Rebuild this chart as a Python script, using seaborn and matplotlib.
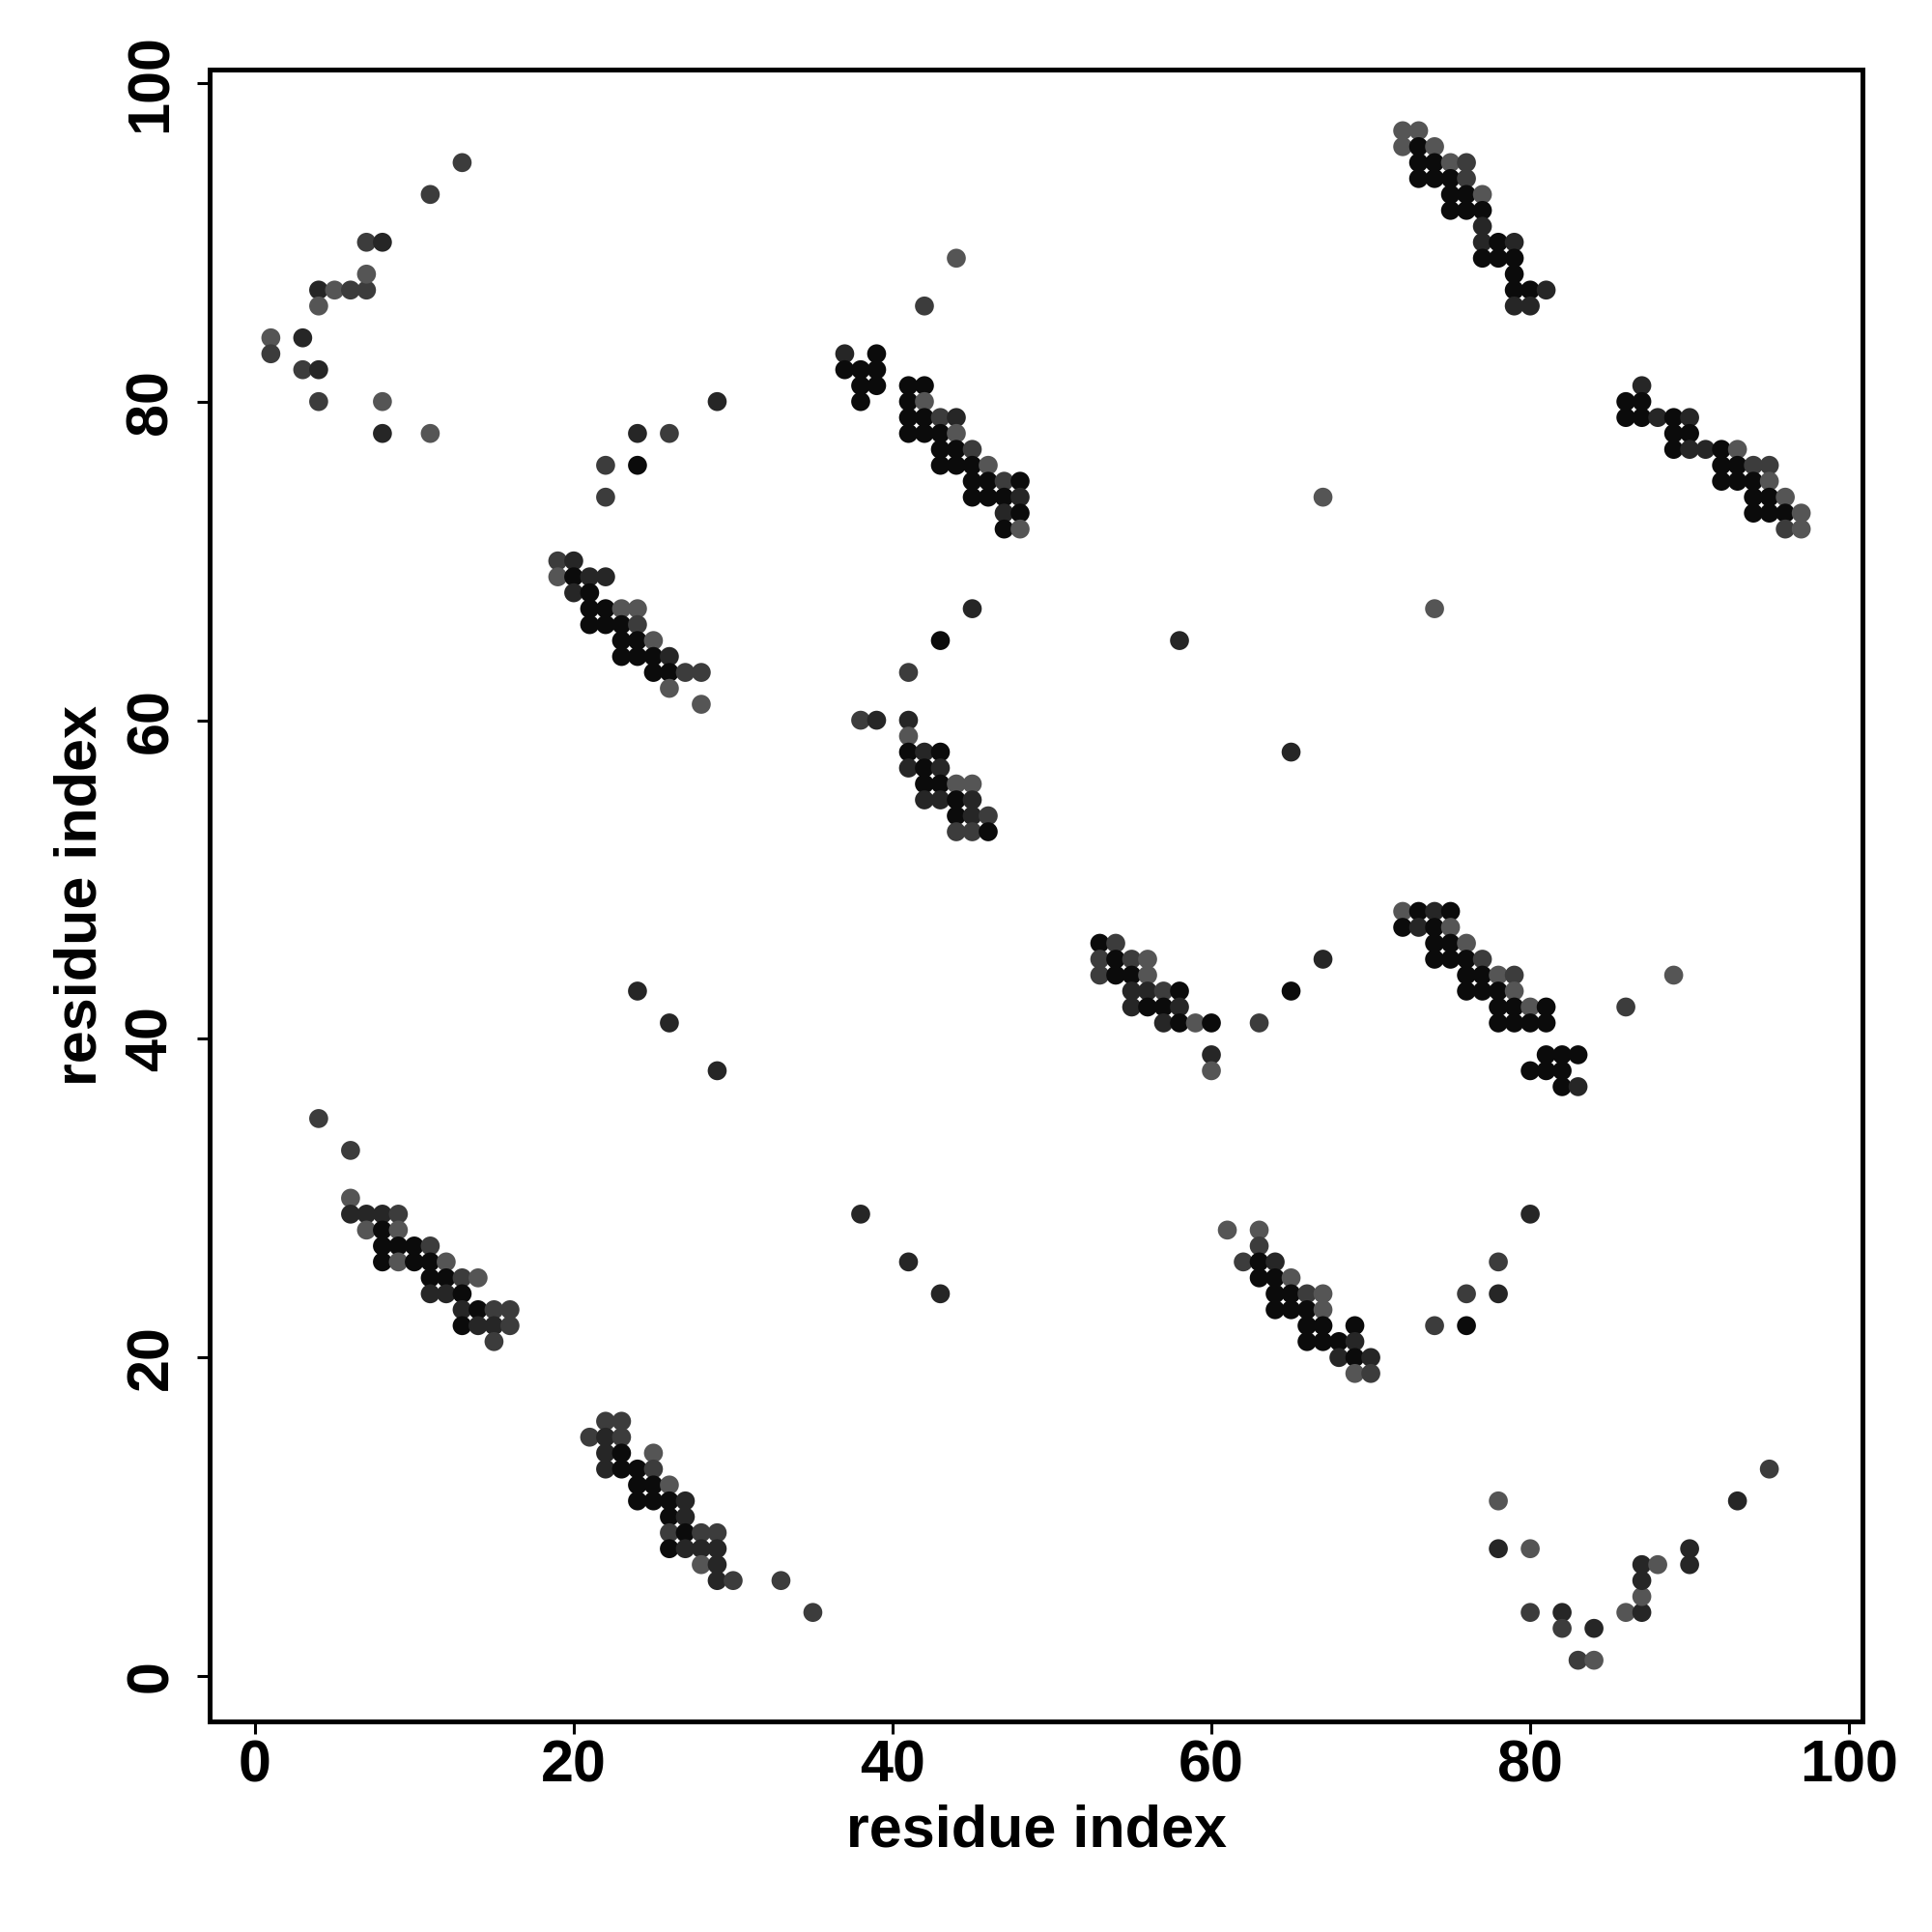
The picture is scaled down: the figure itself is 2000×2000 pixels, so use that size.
import matplotlib
matplotlib.use("Agg")
import matplotlib.pyplot as plt
import seaborn as sns
import pandas as pd

# ---- data: contact pairs (residue i, residue j) and shade level (0 = darkest) ----
res_i = [
    # top-left scatter
    1, 1, 3, 3, 4, 4, 4, 4, 5, 6, 7, 7, 7, 8, 11, 13, 8, 8, 11,
    22, 24, 22, 24, 26, 29,
    # band 19-28 / 61-70
    19, 20, 19, 20, 21, 22, 20, 21, 21, 22, 23, 24, 21, 22, 23, 24,
    23, 24, 25, 23, 24, 25, 26, 25, 26, 27, 28, 26, 28,
    # band 37-48 / 72-83
    37, 39, 37, 38, 39, 38, 39, 38, 42, 44,
    41, 42, 41, 42, 41, 42, 43, 44, 41, 42, 43, 44, 43, 44, 45,
    43, 44, 45, 46, 45, 46, 47, 48, 45, 46, 47, 48, 47, 48, 47, 48,
    # middle singles
    45, 43, 58, 41, 38, 39, 65, 67, 74,
    # band 41-46 / 53-60
    41, 41, 41, 42, 43, 41, 42, 43, 42, 43, 44, 45, 42, 43, 44, 45,
    44, 45, 46, 44, 45, 46,
    # band 72-81 / 86-97
    72, 73, 72, 73, 74, 73, 74, 75, 76, 73, 74, 75, 76, 75, 76, 77,
    75, 76, 77, 77, 77, 78, 79, 77, 78, 79, 79, 79, 80, 81, 79, 80,
    # band 86-97 / 72-81
    87, 86, 87, 86, 87, 88, 89, 90, 89, 90, 89, 90, 91, 92, 93,
    92, 93, 94, 95, 92, 93, 94, 95, 94, 95, 96, 94, 95, 96, 97, 96, 97,
    # band 53-60 / 38-46
    53, 54, 53, 54, 55, 56, 53, 54, 55, 56, 55, 56, 57, 58, 55, 56, 57, 58,
    57, 58, 59, 60, 60, 60, 63, 65, 67,
    # band 72-83 / 37-48
    72, 73, 74, 75, 72, 73, 74, 75, 74, 75, 76, 74, 75, 76, 77,
    76, 77, 78, 79, 76, 77, 78, 79, 78, 79, 80, 81, 78, 79, 80, 81,
    81, 82, 83, 80, 81, 82, 82, 83, 86, 89,
    # lower-middle singles
    24, 26, 29,
    # band 4-16 / 21-35
    4, 6, 6, 6, 7, 8, 9, 7, 8, 9, 8, 9, 10, 11, 8, 9, 10, 11, 12,
    11, 12, 13, 14, 11, 12, 13, 13, 14, 15, 16, 13, 14, 15, 16, 15,
    38, 41, 43,
    # band 61-70 / 19-28
    61, 63, 63, 62, 63, 64, 63, 64, 65, 64, 65, 66, 67, 64, 65, 66, 67,
    66, 67, 69, 66, 67, 68, 69, 68, 69, 70, 69, 70,
    74, 76, 76, 78, 78, 80,
    # band 21-30 / 4-16
    22, 23, 21, 22, 23, 22, 23, 25, 22, 23, 24, 25, 24, 25, 26,
    24, 25, 26, 27, 26, 27, 26, 27, 28, 29, 26, 27, 28, 29, 28, 29,
    29, 30, 33, 35,
    # bottom-right scatter
    78, 78, 80, 80, 82, 82, 84, 83, 84, 86, 87, 87, 87, 87, 88, 90, 90, 93, 95,
]
res_j = [
    84, 83, 84, 82, 82, 80, 87, 86, 87, 87, 87, 88, 90, 90, 93, 95, 80, 78, 78,
    76, 76, 74, 78, 78, 80,
    70, 70, 69, 69, 69, 69, 68, 68, 67, 67, 67, 67, 66, 66, 66, 66,
    65, 65, 65, 64, 64, 64, 64, 63, 63, 63, 63, 62, 61,
    83, 83, 82, 82, 82, 81, 81, 80, 86, 89,
    81, 81, 80, 80, 79, 79, 79, 79, 78, 78, 78, 78, 77, 77, 77,
    76, 76, 76, 76, 75, 75, 75, 75, 74, 74, 74, 74, 73, 73, 72, 72,
    67, 65, 65, 63, 60, 60, 58, 74, 67,
    60, 59, 58, 58, 58, 57, 57, 57, 56, 56, 56, 56, 55, 55, 55, 55,
    54, 54, 54, 53, 53, 53,
    97, 97, 96, 96, 96, 95, 95, 95, 95, 94, 94, 94, 94, 93, 93, 93,
    92, 92, 92, 91, 90, 90, 90, 89, 89, 89, 88, 87, 87, 87, 86, 86,
    81, 80, 80, 79, 79, 79, 79, 79, 78, 78, 77, 77, 77, 77, 77,
    76, 76, 76, 76, 75, 75, 75, 75, 74, 74, 74, 73, 73, 73, 73, 72, 72,
    46, 46, 45, 45, 45, 45, 44, 44, 44, 44, 43, 43, 43, 43, 42, 42, 42, 42,
    41, 41, 41, 41, 39, 38, 41, 43, 45,
    48, 48, 48, 48, 47, 47, 47, 47, 46, 46, 46, 45, 45, 45, 45,
    44, 44, 44, 44, 43, 43, 43, 43, 42, 42, 42, 42, 41, 41, 41, 41,
    39, 39, 39, 38, 38, 38, 37, 37, 42, 44,
    43, 41, 38,
    35, 33, 30, 29, 29, 29, 29, 28, 28, 28, 27, 27, 27, 27, 26, 26, 26, 26, 26,
    25, 25, 25, 25, 24, 24, 24, 23, 23, 23, 23, 22, 22, 22, 22, 21,
    29, 26, 24,
    28, 28, 27, 26, 26, 26, 25, 25, 25, 24, 24, 24, 24, 23, 23, 23, 23,
    22, 22, 22, 21, 21, 21, 21, 20, 20, 20, 19, 19,
    22, 24, 22, 26, 24, 29,
    16, 16, 15, 15, 15, 14, 14, 14, 13, 13, 13, 13, 12, 12, 12,
    11, 11, 11, 11, 10, 10, 9, 9, 9, 9, 8, 8, 8, 8, 7, 7,
    6, 6, 6, 4,
    11, 8, 8, 4, 4, 3, 3, 1, 1, 4, 4, 5, 6, 7, 7, 8, 7, 11, 13,
]
shade = [
    3, 2, 1, 2, 1, 2, 1, 3, 3, 2, 2, 3, 2, 1, 2, 2, 3, 1, 3,
    2, 0, 2, 1, 2, 1,
    2, 1, 3, 0, 1, 1, 1, 0, 0, 0, 3, 3, 0, 0, 0, 2,
    0, 0, 3, 0, 0, 0, 1, 0, 0, 2, 2, 3, 3,
    1, 0, 0, 0, 0, 0, 0, 0, 2, 3,
    0, 0, 0, 3, 0, 0, 2, 1, 0, 0, 0, 3, 0, 0, 2,
    0, 0, 0, 3, 0, 0, 2, 0, 0, 0, 0, 1, 1, 0, 0, 3,
    1, 0, 1, 2, 2, 1, 1, 3, 3,
    1, 3, 0, 1, 0, 1, 0, 1, 0, 0, 3, 3, 1, 1, 0, 1,
    0, 1, 2, 2, 2, 0,
    3, 3, 3, 0, 3, 0, 0, 3, 2, 0, 0, 0, 2, 0, 0, 3,
    0, 0, 0, 1, 1, 0, 1, 0, 0, 0, 0, 0, 0, 1, 1, 1,
    1, 0, 0, 0, 0, 1, 0, 1, 0, 0, 0, 1, 1, 0, 3,
    0, 0, 2, 2, 0, 0, 0, 3, 0, 0, 3, 0, 0, 0, 3, 2, 3,
    0, 2, 2, 0, 2, 3, 2, 0, 0, 3, 1, 1, 2, 0, 1, 0, 0, 1,
    1, 0, 3, 0, 1, 3, 2, 0, 1,
    3, 0, 1, 0, 0, 1, 0, 3, 0, 0, 3, 0, 0, 0, 2,
    0, 0, 3, 2, 0, 0, 0, 3, 0, 0, 3, 0, 0, 0, 0, 0,
    0, 0, 0, 0, 0, 0, 0, 1, 2, 3,
    1, 1, 1,
    2, 2, 3, 1, 1, 1, 2, 3, 0, 3, 0, 0, 0, 2, 0, 3, 0, 0, 3,
    0, 0, 2, 3, 1, 1, 0, 1, 0, 2, 2, 0, 1, 1, 2, 2,
    1, 1, 1,
    3, 3, 2, 2, 0, 1, 0, 0, 3, 0, 0, 2, 3, 0, 0, 0, 3,
    0, 0, 0, 0, 0, 0, 1, 1, 0, 1, 3, 2,
    2, 2, 0, 2, 1, 1,
    2, 2, 2, 1, 2, 1, 0, 3, 1, 0, 0, 2, 0, 0, 3,
    0, 0, 0, 1, 0, 1, 2, 0, 2, 2, 0, 1, 1, 1, 3, 1,
    1, 2, 2, 2,
    3, 1, 3, 2, 1, 2, 1, 2, 3, 3, 1, 3, 1, 1, 3, 1, 1, 1, 2,
]
shade_colors = {0: "#0b0b0b", 1: "#262626", 2: "#3c3c3c", 3: "#555555"}
tick_values = [0, 20, 40, 60, 80, 100]
axis_label = "residue index"

df = pd.DataFrame({"i": res_i, "j": res_j, "shade": shade})

sns.set_theme(style="white")
plt.rcParams["font.family"] = ["Liberation Sans", "DejaVu Sans"]

fig = plt.figure(figsize=(10, 10), dpi=200)
fig.patch.set_facecolor("white")
ax = fig.add_axes([0.1085, 0.109, 0.8555, 0.855])

sns.scatterplot(data=df, x="i", y="j", hue="shade", palette=shade_colors,
                s=50, linewidth=0, legend=False, ax=ax)

# R-like 4% expansion of the data range
def expand(vals):
    lo, hi = min(vals), max(vals)
    d = (hi - lo) * 0.04
    return lo - d, hi + d

ax.set_xlim(*expand(res_i))
ax.set_ylim(*expand(res_j))
ax.set_xticks(tick_values)
ax.set_yticks(tick_values)
ax.set_xticklabels([str(t) for t in tick_values], fontsize=22, fontweight="bold")
ax.set_yticklabels([str(t) for t in tick_values], fontsize=22, fontweight="bold",
                   rotation=90, va="center")

for sp in ax.spines.values():
    sp.set_visible(True)
    sp.set_color("black")
    sp.set_linewidth(1.8)

ax.tick_params(axis="both", direction="out", length=4.7, width=1.1,
               color="black", labelcolor="black")
ax.tick_params(axis="x", pad=2.0, bottom=True)
ax.tick_params(axis="y", pad=6.5, left=True)

ax.set_xlabel(axis_label, fontsize=22, fontweight="bold", color="black")
ax.set_ylabel(axis_label, fontsize=22, fontweight="bold", color="black")
ax.xaxis.set_label_coords(0.5, -0.050)
ax.yaxis.set_label_coords(-0.061, 0.5)
ax.grid(False)

fig.savefig("out.png", dpi=200, facecolor="white")
